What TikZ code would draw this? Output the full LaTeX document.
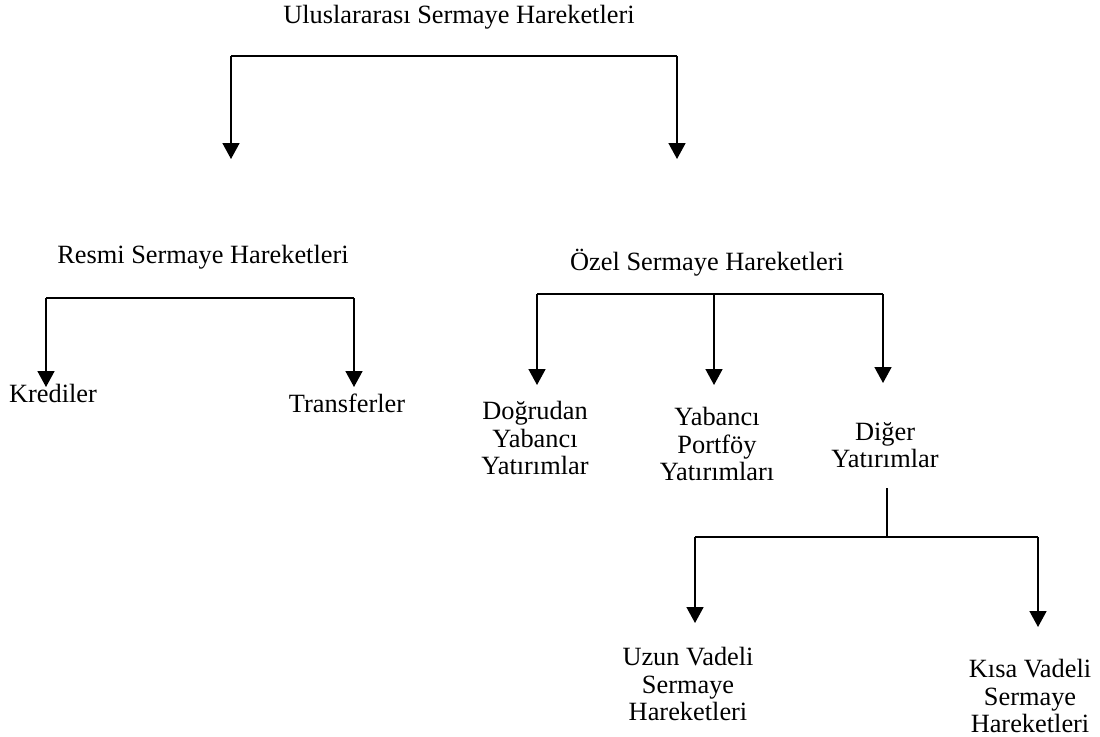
\documentclass[tikz,border=0pt]{standalone}
\usepackage{fontspec}
\setmainfont{Liberation Serif}
\usetikzlibrary{arrows.meta}

\begin{document}
\begin{tikzpicture}[x=0.1mm, y=-0.1mm, line width=0.4pt, main/.style = {inner sep=0pt, align=center, font=\fontsize{7.5}{7.9}\selectfont}, >={Triangle[length=4.5pt, width=4.8pt]}]
    \useasboundingbox (0,0) rectangle (1100,736);
    \node[main] (1) at (459,17) {Uluslararası Sermaye Hareketleri};
    \node[main] (2) at (203,257) {Resmi Sermaye Hareketleri};
    \node[main] (3) at (707,263) {Özel Sermaye Hareketleri};
    \node[main] (4) at (53,393) {Krediler};
    \node[main] (5) at (347,403) {Transferler};
    \node[main] (6) at (535,438) {Doğrudan\\Yabancı\\Yatırımlar};
    \node[main] (7) at (717,444) {Yabancı\\Portföy\\Yatırımları};
    \node[main] (8) at (885,445) {Diğer\\Yatırımlar};
    \node[main] (9) at (688,684) {Uzun Vadeli\\Sermaye\\Hareketleri};
    \node[main] (10) at (1030,696) {Kısa Vadeli\\Sermaye\\Hareketleri};

    \coordinate (a1) at (231,56);
    \coordinate (a2) at (677,56);
    \coordinate (a3) at (231,159);
    \coordinate (a4) at (677,159);
    \coordinate (b1) at (46,298);
    \coordinate (b2) at (354,298);
    \coordinate (b3) at (46,387);
    \coordinate (b4) at (354,387);
    \coordinate (c1) at (537,294);
    \coordinate (c2) at (714,294);
    \coordinate (c3) at (883,294);
    \coordinate (c4) at (537,385);
    \coordinate (c5) at (714,385);
    \coordinate (c6) at (883,383);
    \coordinate (d1) at (887,488);
    \coordinate (d2) at (887,537);
    \coordinate (d3) at (695,537);
    \coordinate (d4) at (1038,537);
    \coordinate (d5) at (695,623);
    \coordinate (d6) at (1038,627);

    \draw (a1) -- (a2);
    \draw[->] (a1) -- (a3);
    \draw[->] (a2) -- (a4);
    \draw (b1) -- (b2);
    \draw[->] (b1) -- (b3);
    \draw[->] (b2) -- (b4);
    \draw (c1) -- (c3);
    \draw[->] (c1) -- (c4);
    \draw[->] (c2) -- (c5);
    \draw[->] (c3) -- (c6);
    \draw (d1) -- (d2);
    \draw (d3) -- (d4);
    \draw[->] (d3) -- (d5);
    \draw[->] (d4) -- (d6);

    \end{tikzpicture}
\end{document}
